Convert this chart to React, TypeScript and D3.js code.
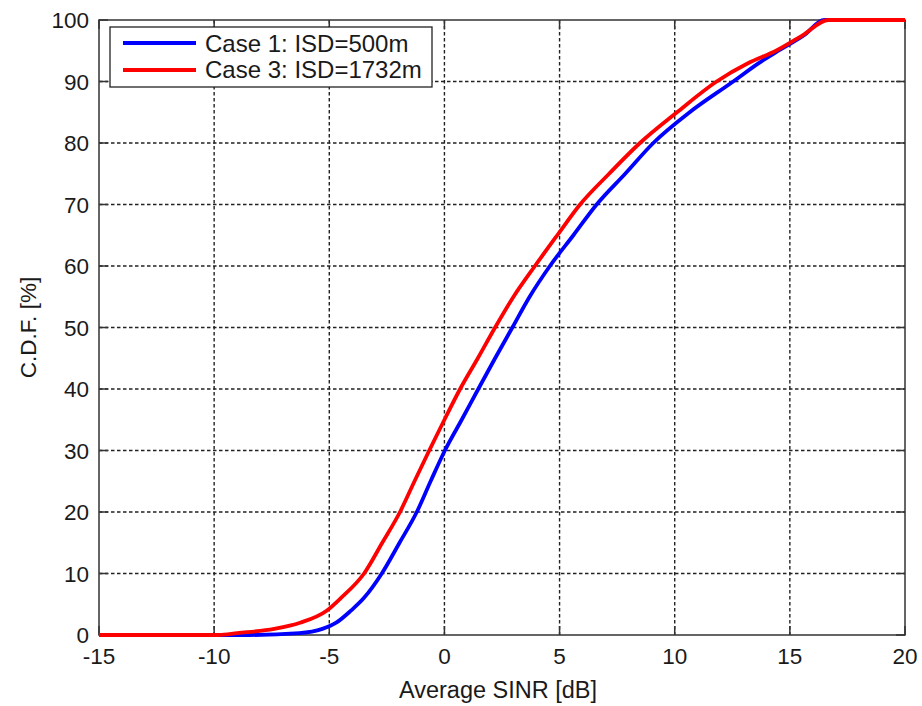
import React from "react";
import * as d3 from "d3";

const cdfLevels = [0, 0, 0.3, 1, 2, 4, 6, 10, 15, 20, 25, 30, 35, 40, 45, 50, 55, 60, 65, 70, 75, 80, 85, 90, 93, 95, 97.5, 100, 100];
const case1Sinr = [-15, -8.5, -6.3, -5.3, -4.7, -4.05, -3.5, -2.72, -1.95, -1.2, -0.6, 0.02, 0.75, 1.47, 2.2, 2.95, 3.7, 4.58, 5.6, 6.61, 7.85, 9.07, 10.65, 12.54, 13.65, 14.5, 15.6, 16.5, 20];
const case3Sinr = [-15, -9.8, -9.0, -7.4, -6.27, -5.1, -4.5, -3.49, -2.7, -1.93, -1.3, -0.66, 0.0, 0.68, 1.45, 2.2, 3.0, 3.93, 4.9, 5.89, 7.15, 8.49, 10.1, 11.82, 13.2, 14.4, 15.55, 16.67, 20];

const xTicks = [-15, -10, -5, 0, 5, 10, 15, 20];
const yTicks = [0, 10, 20, 30, 40, 50, 60, 70, 80, 90, 100];

const seriesNames = ["Case 1: ISD=500m", "Case 3: ISD=1732m"];
const seriesColors = ["#0000ff", "#ff0000"];

const W = 922;
const H = 706;
const left = 99;
const right = 905;
const top = 20;
const bottom = 635;
const FONT = "'Liberation Sans', Arial, sans-serif";
const TXT = "#1a1a1a";

export default function App() {
  const x = d3.scaleLinear().domain([-15, 20]).range([left, right]);
  const y = d3.scaleLinear().domain([0, 100]).range([bottom, top]);
  const line = d3
    .line<[number, number]>()
    .x((d) => x(d[0]))
    .y((d) => y(d[1]))
    .curve(d3.curveMonotoneX);

  const series = [case1Sinr, case3Sinr].map((xs) =>
    xs.map((v, i) => [v, cdfLevels[i]] as [number, number])
  );

  const tickLen = 9;

  return (
    <svg
      width={W}
      height={H}
      style={{ position: "absolute", left: 0, top: 0, background: "#fff" }}
      fontFamily={FONT}
    >
      <rect x={0} y={0} width={W} height={H} fill="#fff" />
      {/* grid */}
      {xTicks.slice(1, -1).map((t) => (
        <line
          key={"gx" + t}
          x1={x(t)}
          x2={x(t)}
          y1={top}
          y2={bottom}
          stroke="#222"
          strokeWidth={1.4}
          strokeDasharray="3.5,2.5"
        />
      ))}
      {yTicks.slice(1, -1).map((t) => (
        <line
          key={"gy" + t}
          x1={left}
          x2={right}
          y1={y(t)}
          y2={y(t)}
          stroke="#222"
          strokeWidth={1.4}
          strokeDasharray="3.5,2.5"
        />
      ))}
      {/* tick marks */}
      {xTicks.map((t) => (
        <g key={"tx" + t}>
          <line x1={x(t)} x2={x(t)} y1={bottom} y2={bottom - tickLen} stroke="#333" strokeWidth={1.5} />
          <line x1={x(t)} x2={x(t)} y1={top} y2={top + tickLen} stroke="#333" strokeWidth={1.5} />
        </g>
      ))}
      {yTicks.map((t) => (
        <g key={"ty" + t}>
          <line x1={left} x2={left + tickLen} y1={y(t)} y2={y(t)} stroke="#333" strokeWidth={1.5} />
          <line x1={right} x2={right - tickLen} y1={y(t)} y2={y(t)} stroke="#333" strokeWidth={1.5} />
        </g>
      ))}
      {/* box */}
      <rect
        x={left}
        y={top}
        width={right - left}
        height={bottom - top}
        fill="none"
        stroke="#333"
        strokeWidth={1.5}
      />
      {/* curves */}
      {series.map((s, i) => (
        <path
          key={"s" + i}
          d={line(s) || ""}
          fill="none"
          stroke={seriesColors[i]}
          strokeWidth={3.8}
          strokeLinejoin="round"
        />
      ))}
      {/* tick labels */}
      {xTicks.map((t) => (
        <text
          key={"lx" + t}
          x={x(t)}
          y={664}
          textAnchor="middle"
          fontSize={22.5}
          fill={TXT}
        >
          {t}
        </text>
      ))}
      {yTicks.map((t) => (
        <text
          key={"ly" + t}
          x={89}
          y={y(t) + 8}
          textAnchor="end"
          fontSize={22.5}
          fill={TXT}
        >
          {t}
        </text>
      ))}
      {/* axis labels */}
      <text x={(left + right) / 2 - 4} y={698} textAnchor="middle" fontSize={23.5} fill={TXT}>
        Average SINR [dB]
      </text>
      <text
        transform={`translate(36, ${y(50)}) rotate(-90)`}
        textAnchor="middle"
        fontSize={22.5}
        fill={TXT}
      >
        C.D.F. [%]
      </text>
      {/* legend */}
      <rect x={110} y={27} width={322} height={60} fill="#fff" stroke="#222" strokeWidth={1.3} />
      {seriesNames.map((n, i) => (
        <g key={"lg" + i}>
          <line
            x1={123}
            x2={196}
            y1={43 + i * 27}
            y2={43 + i * 27}
            stroke={seriesColors[i]}
            strokeWidth={4}
          />
          <text x={205} y={52 + i * 26} fontSize={24} fill={TXT}>
            {n}
          </text>
        </g>
      ))}
    </svg>
  );
}
